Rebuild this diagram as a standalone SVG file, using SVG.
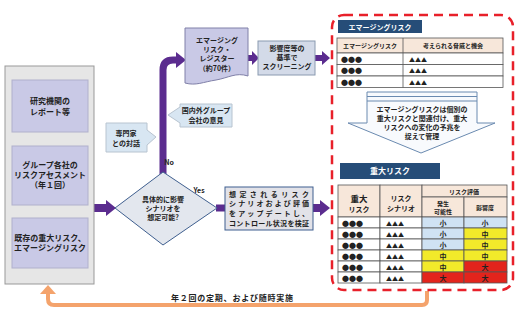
<svg xmlns="http://www.w3.org/2000/svg" width="521" height="315" viewBox="0 0 521 315">
<defs>
<style>
text{font-family:"Noto Sans CJK JP","Noto Sans",sans-serif;font-weight:700;fill:#222;text-anchor:middle}
.t8{font-size:8px}
.t7{font-size:7px}
.t6{font-size:6px}
.wh{fill:#fff}
.lt{text-anchor:start}
.inner{fill:#c9c9e6;stroke:#b0b0cc;stroke-width:1}
.pur{fill:#5b2c8f}
.purl{stroke:#5b2c8f;stroke-width:7;fill:none}
.cell{fill:#fff;stroke:#555;stroke-width:0.8}
.hd{fill:#f7e7da;stroke:#555;stroke-width:0.8}
.blu{fill:#cfe2f3;stroke:#555;stroke-width:0.8}
.yel{fill:#f2ea2a;stroke:#555;stroke-width:0.8}
.red{fill:#e3241c;stroke:#555;stroke-width:0.8}
</style>
</defs>
<rect width="521" height="315" fill="#fff"/>

<g id="connectors">
<polygon class="pur" points="94,204 106,204 106,200 116,208 106,216 106,212 94,212"/>
<path class="purl" d="M163,174 V70 Q163,60 173,60 H177"/>
<polygon class="pur" points="176,52 186,60 176,68"/>
<polygon class="pur" points="248,55 252,55 252,51 259,58 252,65 252,61 248,61"/>
<polygon class="pur" points="315,55 322,55 322,51 330,58 322,65 322,61 315,61"/>
<line class="purl" x1="216" y1="208" x2="226" y2="208"/>
<polygon class="pur" points="313,204 320,204 320,200 330,208 320,216 320,212 313,212"/>
<path d="M427,291 V300 Q427,305 422,305 H54 Q48,305 48,299 V293" fill="none" stroke="#f4a36c" stroke-width="4"/>
<polygon points="40,294 48,285 56,294" fill="#f4a36c"/>
<text class="t7" x="169" y="165">No</text>
<text class="t7" x="199" y="193">Yes</text>
<text class="t8" x="232" y="301" textLength="122" lengthAdjust="spacing">年２回の定期、および随時実施</text>
</g>

<g id="sources">
<rect x="5" y="66" width="89" height="218" fill="#e6e6e6" stroke="#999" stroke-width="1"/>
<rect class="inner" x="12" y="80" width="76" height="52"/>
<text class="t8" x="50" y="104">研究機関の</text>
<text class="t8" x="50" y="115">レポート等</text>
<rect class="inner" x="12" y="146" width="76" height="59"/>
<text class="t8" x="50" y="168">グループ各社の</text>
<text class="t8" x="50" y="178">リスクアセスメント</text>
<text class="t8" x="50" y="188">（年１回）</text>
<rect class="inner" x="12" y="218" width="76" height="50"/>
<text class="t8" x="50" y="241">既存の重大リスク、</text>
<text class="t8" x="50" y="251">エマージングリスク</text>
</g>

<g id="expert">
<polygon points="106,123 147,123 147,130 156,137 147,145 147,152 106,152" fill="#d8e6f2" stroke="#b8c4d0" stroke-width="1"/>
<text class="t7" x="126" y="136">専門家</text>
<text class="t7" x="126" y="146">との対話</text>
</g>

<g id="group-opinion">
<polygon points="168,115 180,107 180,104 232,104 232,127 180,127 180,123" fill="#d8e6f2" stroke="#b8c4d0" stroke-width="1"/>
<text class="t7" x="206" y="113">国内外グループ</text>
<text class="t7" x="206" y="123">会社の意見</text>
</g>

<g id="decision">
<polygon points="115,208 163,172 217,208 163,245" fill="#e3e7ee" stroke="#3f5f8f" stroke-width="1"/>
<text class="t7" x="163" y="202">具体的に影響</text>
<text class="t7" x="163" y="211">シナリオを</text>
<text class="t7" x="163" y="220">想定可能?</text>
</g>

<g id="register">
<path d="M185,28 H248 V76 C236,72 228,78 216,80 C203,82 196,86 185,83 Z" fill="#c9c9e6" stroke="#8080a8" stroke-width="1"/>
<text class="t7" x="217" y="43">エマージング</text>
<text class="t7" x="217" y="52">リスク・</text>
<text class="t7" x="217" y="61">レジスター</text>
<text class="t7" x="217" y="71">（約70件）</text>
</g>

<g id="screening">
<rect x="258" y="41" width="57" height="34" fill="#d3dae8" stroke="#8a9ab0" stroke-width="1"/>
<text class="t7" x="287" y="51">影響度等の</text>
<text class="t7" x="287" y="60">基準で</text>
<text class="t7" x="287" y="69">スクリーニング</text>
</g>

<g id="update">
<rect x="225" y="187" width="88" height="43" fill="#e2e2e8" stroke="#3f5f8f" stroke-width="1"/>
<text class="t7 lt" x="229" y="197" textLength="80" lengthAdjust="spacing">想定されるリスク</text>
<text class="t7 lt" x="229" y="206" textLength="80" lengthAdjust="spacing">シナリオおよび評価</text>
<text class="t7 lt" x="229" y="216" textLength="80" lengthAdjust="spacing">をアップデートし、</text>
<text class="t7 lt" x="229" y="226" textLength="80" lengthAdjust="spacing">コントロール状況を検証</text>
</g>

<g id="risk-area">
<rect x="332" y="15" width="181" height="275" rx="12" fill="none" stroke="#e8202a" stroke-width="2.5" stroke-dasharray="9 6"/>

<rect x="338" y="20" width="84" height="13" fill="#264d78"/>
<text class="t7 wh" x="380" y="30">エマージングリスク</text>
<rect class="hd" x="337" y="38" width="166" height="15"/>
<rect class="cell" x="337" y="53" width="166" height="11.5"/>
<rect class="cell" x="337" y="64.5" width="166" height="11.5"/>
<rect class="cell" x="337" y="76" width="166" height="11.5"/>
<line x1="403" y1="38" x2="403" y2="87.5" stroke="#555" stroke-width="0.8"/>
<text class="t6" x="370" y="48">エマージングリスク</text>
<text class="t6" x="453" y="48">考えられる脅威と機会</text>
<text class="t7 lt" x="341" y="62">●●●</text>
<text class="t7 lt" x="341" y="73">●●●</text>
<text class="t7 lt" x="341" y="85">●●●</text>
<text class="t6 lt" x="409" y="62">▲▲▲</text>
<text class="t6 lt" x="409" y="73">▲▲▲</text>
<text class="t6 lt" x="409" y="85">▲▲▲</text>

<path d="M367,92 H477 V123 H495 L421,153 L348,123 H367 Z" fill="#f8fafd" stroke="#6a8ab0" stroke-width="1"/>
<line x1="367" y1="96.5" x2="477" y2="96.5" stroke="#6a8ab0" stroke-width="1"/>
<line x1="367" y1="101" x2="477" y2="101" stroke="#6a8ab0" stroke-width="1"/>
<text class="t7" x="422" y="112">エマージングリスクは個別の</text>
<text class="t7" x="422" y="121">重大リスクと関連付け、重大</text>
<text class="t7" x="422" y="130">リスクへの変化の予兆を</text>
<text class="t7" x="422" y="139">捉えて管理</text>

<rect x="340" y="163" width="100" height="16" fill="#264d78"/>
<text class="t8 wh" x="390" y="174">重大リスク</text>
<rect class="hd" x="338" y="185" width="42" height="32"/>
<rect class="hd" x="380" y="185" width="42" height="32"/>
<rect class="hd" x="422" y="185" width="85" height="12"/>
<rect class="hd" x="422" y="197" width="42" height="20"/>
<rect class="hd" x="464" y="197" width="43" height="20"/>
<text x="359" y="202" style="font-size:8.5px">重大</text>
<text class="t7" x="359" y="212">リスク</text>
<text class="t7" x="401" y="201">リスク</text>
<text class="t7" x="401" y="211">シナリオ</text>
<text class="t6" x="464" y="194">リスク評価</text>
<text class="t6" x="443" y="206">発生</text>
<text class="t6" x="443" y="214">可能性</text>
<text class="t6" x="485" y="210">影響度</text>

<rect class="cell" x="338" y="217" width="42" height="11"/><rect class="cell" x="380" y="217" width="42" height="11"/>
<rect class="blu" x="422" y="217" width="42" height="11"/><rect class="blu" x="464" y="217" width="43" height="11"/>
<rect class="cell" x="338" y="228" width="42" height="11"/><rect class="cell" x="380" y="228" width="42" height="11"/>
<rect class="blu" x="422" y="228" width="42" height="11"/><rect class="yel" x="464" y="228" width="43" height="11"/>
<rect class="cell" x="338" y="239" width="42" height="11"/><rect class="cell" x="380" y="239" width="42" height="11"/>
<rect class="blu" x="422" y="239" width="42" height="11"/><rect class="yel" x="464" y="239" width="43" height="11"/>
<rect class="cell" x="338" y="250" width="42" height="11"/><rect class="cell" x="380" y="250" width="42" height="11"/>
<rect class="yel" x="422" y="250" width="42" height="11"/><rect class="yel" x="464" y="250" width="43" height="11"/>
<rect class="cell" x="338" y="261" width="42" height="11"/><rect class="cell" x="380" y="261" width="42" height="11"/>
<rect class="yel" x="422" y="261" width="42" height="11"/><rect class="red" x="464" y="261" width="43" height="11"/>
<rect class="cell" x="338" y="272" width="42" height="11"/><rect class="cell" x="380" y="272" width="42" height="11"/>
<rect class="red" x="422" y="272" width="42" height="11"/><rect class="red" x="464" y="272" width="43" height="11"/>

<g class="t7">
<text class="t7 lt" x="342" y="225.5">●●●</text><text class="t7 lt" x="342" y="236.5">●●●</text><text class="t7 lt" x="342" y="247.5">●●●</text>
<text class="t7 lt" x="342" y="258.5">●●●</text><text class="t7 lt" x="342" y="269.5">●●●</text><text class="t7 lt" x="342" y="280.5">●●●</text>
<text class="t6 lt" x="386" y="225.5">▲▲▲</text><text class="t6 lt" x="386" y="236.5">▲▲▲</text><text class="t6 lt" x="386" y="247.5">▲▲▲</text>
<text class="t6 lt" x="386" y="258.5">▲▲▲</text><text class="t6 lt" x="386" y="269.5">▲▲▲</text><text class="t6 lt" x="386" y="280.5">▲▲▲</text>
<text class="t7" x="443" y="225.5">小</text><text class="t7" x="485" y="225.5">小</text>
<text class="t7" x="443" y="236.5">小</text><text class="t7" x="485" y="236.5">中</text>
<text class="t7" x="443" y="247.5">小</text><text class="t7" x="485" y="247.5">中</text>
<text class="t7" x="443" y="258.5">中</text><text class="t7" x="485" y="258.5">中</text>
<text class="t7" x="443" y="269.5">中</text><text class="t7" x="485" y="269.5">大</text>
<text class="t7" x="443" y="280.5">大</text><text class="t7" x="485" y="280.5">大</text>
</g>
</g>
</svg>
